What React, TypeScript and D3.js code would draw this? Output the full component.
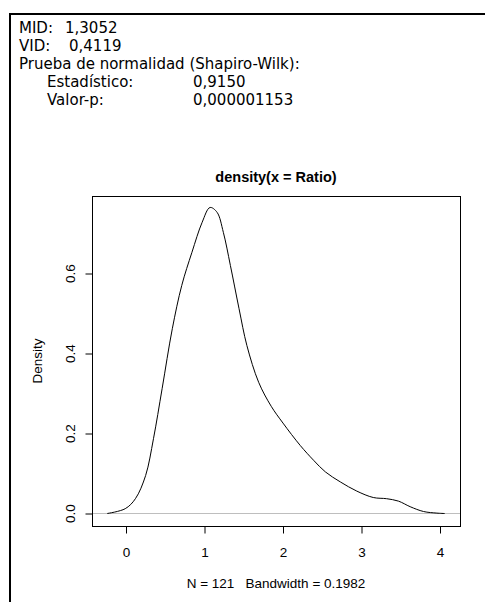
import React, { useEffect, useRef } from 'react';
import * as d3 from 'd3';

// density curve
const densityX = [-0.24, -0.01, 0.12, 0.25, 0.35, 0.46, 0.59, 0.71, 0.84, 0.97, 1.07, 1.16, 1.24, 1.33, 1.44, 1.54, 1.69, 1.85, 2.0, 2.22, 2.39, 2.54, 2.73, 2.94, 3.15, 3.32, 3.47, 3.62, 3.79, 3.96, 4.06];
const densityY = [0.0, 0.012, 0.037, 0.095, 0.187, 0.312, 0.462, 0.57, 0.653, 0.728, 0.765, 0.753, 0.703, 0.62, 0.512, 0.42, 0.328, 0.268, 0.226, 0.17, 0.133, 0.104, 0.079, 0.056, 0.04, 0.037, 0.031, 0.017, 0.005, 0.001, 0.0];

const xTicks = [0, 1, 2, 3, 4];
const yTicks = [0, 0.2, 0.4, 0.6];

const summaryLabels = ['MID:', 'VID:'];
const summaryValues = ['1,3052', '0,4119'];
const testHeading = 'Prueba de normalidad (Shapiro-Wilk):';
const testLabels = ['Estadístico:', 'Valor-p:'];
const testValues = ['0,9150', '0,000001153'];

const title = 'density(x = Ratio)';
const yLabel = 'Density';
const xLabel = 'N = 121   Bandwidth = 0.1982';

const App: React.FC = () => {
  const svgRef = useRef<SVGSVGElement>(null);

  useEffect(() => {
    if (!svgRef.current) return;
    const W = 485, H = 602;
    const box = { left: 92, right: 460, top: 196, bottom: 526 };

    const svg = d3.select(svgRef.current).attr('width', W).attr('height', H);
    svg.selectAll('*').remove();

    svg.append('rect').attr('width', W).attr('height', H).attr('fill', '#fff');

    // outer frame (top and left only)
    svg.append('line').attr('x1', 9).attr('x2', W).attr('y1', 14).attr('y2', 14)
      .attr('stroke', '#000').attr('stroke-width', 2);
    svg.append('line').attr('x1', 10).attr('x2', 10).attr('y1', 13).attr('y2', H)
      .attr('stroke', '#000').attr('stroke-width', 2);

    // stats text
    const txtFont = '"DejaVu Sans", Verdana, sans-serif';
    const txtSize = 15;
    const valueX = [65, 69];
    summaryLabels.forEach((t, i) => {
      svg.append('text').attr('x', 19).attr('y', 33 + i * 18)
        .attr('font-family', txtFont).attr('font-size', txtSize).text(t);
      svg.append('text').attr('x', valueX[i]).attr('y', 33 + i * 18)
        .attr('font-family', txtFont).attr('font-size', txtSize).text(summaryValues[i]);
    });
    svg.append('text').attr('x', 19).attr('y', 69)
      .attr('font-family', txtFont).attr('font-size', txtSize).text(testHeading);
    testLabels.forEach((t, i) => {
      svg.append('text').attr('x', 47).attr('y', 87 + i * 18)
        .attr('font-family', txtFont).attr('font-size', txtSize).text(t);
      svg.append('text').attr('x', 193).attr('y', 87 + i * 18)
        .attr('font-family', txtFont).attr('font-size', txtSize).text(testValues[i]);
    });

    const x = d3.scaleLinear().domain([0, 4]).range([126, 440]);
    const y = d3.scaleLinear().domain([0, 0.6]).range([513.5, 273.5]);

    const plotFont = '"Liberation Sans", Arial, sans-serif';
    const plotSize = 13.5;

    // zero line
    svg.append('line').attr('x1', box.left).attr('x2', box.right)
      .attr('y1', y(0)).attr('y2', y(0)).attr('stroke', '#bebebe').attr('stroke-width', 1);

    // curve
    const pts: [number, number][] = densityX.map((d, i) => [d, densityY[i]]);
    const line = d3.line<[number, number]>()
      .x(d => x(d[0])).y(d => y(d[1])).curve(d3.curveCatmullRom.alpha(0.5));
    svg.append('path').attr('d', line(pts)).attr('fill', 'none')
      .attr('stroke', '#000').attr('stroke-width', 1);

    // box
    svg.append('rect').attr('x', box.left + 0.5).attr('y', box.top + 0.5)
      .attr('width', box.right - box.left).attr('height', box.bottom - box.top)
      .attr('fill', 'none').attr('stroke', '#000').attr('stroke-width', 1);

    // x axis
    const xAxis = svg.append('g').attr('transform', `translate(0,${box.bottom + 0.5})`)
      .call(d3.axisBottom(x).tickValues(xTicks).tickSize(7).tickPadding(14).tickFormat(d3.format('d')));
    xAxis.select('.domain').remove();
    xAxis.selectAll('text').attr('font-family', plotFont).attr('font-size', plotSize).attr('fill', '#000');

    // y axis
    const yAxis = svg.append('g').attr('transform', `translate(${box.left + 0.5},0)`)
      .call(d3.axisLeft(y).tickValues(yTicks).tickSize(7).tickFormat(d3.format('.1f')));
    yAxis.select('.domain').remove();
    yAxis.selectAll('.tick text').remove();
    yTicks.forEach(v => {
      svg.append('text').attr('transform', `translate(75,${y(v)}) rotate(-90)`)
        .attr('text-anchor', 'middle').attr('font-family', plotFont).attr('font-size', plotSize)
        .text(d3.format('.1f')(v));
    });

    // titles
    svg.append('text').attr('x', (box.left + box.right) / 2).attr('y', 182)
      .attr('text-anchor', 'middle').attr('font-family', plotFont).attr('font-size', 14.5)
      .attr('font-weight', 'bold').text(title);
    svg.append('text').attr('transform', `translate(42,${(box.top + box.bottom) / 2}) rotate(-90)`)
      .attr('text-anchor', 'middle').attr('font-family', plotFont).attr('font-size', plotSize).text(yLabel);
    svg.append('text').attr('x', (box.left + box.right) / 2).attr('y', 588)
      .attr('text-anchor', 'middle').attr('font-family', plotFont).attr('font-size', plotSize)
      .style('white-space', 'pre').text(xLabel);
  }, []);

  return (
    <div style={{ position: 'absolute', left: 0, top: 0 }}>
      <svg ref={svgRef} style={{ display: 'block' }} />
    </div>
  );
};

export default App;
